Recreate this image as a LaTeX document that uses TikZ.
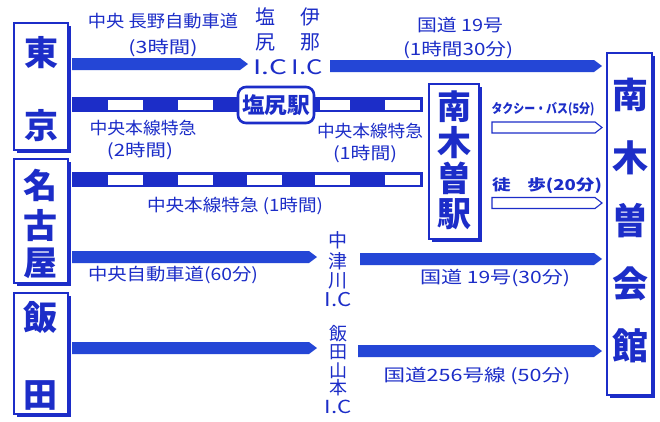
\documentclass[tikz,border=0pt]{standalone}
\usepackage{fontspec}
\usepackage{graphicx}
\setmainfont{Noto Sans CJK JP}
\usetikzlibrary{calc,shadows}
\definecolor{mblue}{RGB}{28,45,200}
\definecolor{rblue}{RGB}{36,70,214}
\newcommand\fitw[2]{\resizebox{#1pt}{\height}{#2}}
\begin{document}
\begin{tikzpicture}[x=1pt,y=-1pt,
  box/.style={draw=mblue,line width=1.8pt,fill=white,inner sep=0pt,
    drop shadow={shadow xshift=3pt,shadow yshift=-3pt,fill=mblue,opacity=1}},
  fs/.style n args={3}{font=\fontsize{#1}{#1}\selectfont,text height=#2pt,text depth=#3pt},
  txt/.style={text=mblue,inner sep=0pt},
  bigc/.style={txt,fs={34}{29.9}{4.1},font=\bfseries\fontsize{34}{34}\selectfont},
  bigr/.style={txt,fs={36}{31.7}{4.3},font=\bfseries\fontsize{36}{36}\selectfont},
  lbl/.style={txt,fs={17}{15}{2}},
  ic/.style={txt,fs={20}{17.6}{2.4}},
  roadto/.style={to path={let \p1=(\tikztostart),\p2=(\tikztotarget) in
     (\x1,\y1+6pt) -- (\x2-8pt,\y1+6pt) -- (\x2,\y1) -- (\x2-8pt,\y1-6pt) -- (\x1,\y1-6pt) -- cycle}},
  walkto/.style={to path={let \p1=(\tikztostart),\p2=(\tikztotarget) in
     (\x1,\y1+5.5pt) -- (\x2-7pt,\y1+5.5pt) -- (\x2,\y1) -- (\x2-7pt,\y1-5.5pt) -- (\x1,\y1-5.5pt) -- cycle}},
  road/.style={fill=rblue},
  walk/.style={draw=mblue,line width=1.1pt,fill=white},
]
\useasboundingbox (0,0) rectangle (660,421);
\fill[white] (0,0) rectangle (660,421);

% ---------- rails ----------
\coordinate (railAs) at (72,104.5);
\coordinate (railAe) at (423,104.5);
\fill[mblue] ($(railAs)+(0,-7.5)$) rectangle ($(railAe)+(0,7.5)$);
\foreach \a/\b in {108/143,178/213,320/350,385/420}
  \fill[white] (\a,100) rectangle (\b,109.5);
\coordinate (railBs) at (72,179.5);
\coordinate (railBe) at (423,179.5);
\fill[mblue] ($(railBs)+(0,-7.5)$) rectangle ($(railBe)+(0,7.5)$);
\foreach \a/\b in {108/143,178/213,247/282,315/350,385/420}
  \fill[white] (\a,175) rectangle (\b,184.5);

% ---------- boxes ----------
\node[box,minimum width=54pt,minimum height=127pt] (tokyo) at (41,86.5) {};
\node[box,minimum width=54pt,minimum height=124pt] (nagoya) at (41,221) {};
\node[box,minimum width=54pt,minimum height=121pt] (iida) at (41,353.5) {};
\node[box,minimum width=45pt,minimum height=342pt] (kaikan) at (629.5,224) {};
\node[box,minimum width=50pt,minimum height=155pt] (eki) at (454,161.5) {};
\node[draw=mblue,line width=2.6pt,fill=white,rounded corners=8pt,
      minimum width=76pt,minimum height=36pt,inner sep=0pt] (shioeki) at (276,105) {};
\node[txt,fs={22}{19.4}{2.6},font=\bfseries\fontsize{22}{22}\selectfont] (shioekit) at (276,105) {\fitw{68}{塩尻駅}};

% ---------- big characters ----------
\node[bigc] (c1) at (41,53) {東};
\node[bigc] (c2) at (41,126) {京};
\node[bigc] (c3) at (40,186) {名};
\node[bigc] (c4) at (40,226) {古};
\node[bigc] (c5) at (40,263) {屋};
\node[bigc] (c6) at (40,318) {飯};
\node[bigc] (c7) at (40,395) {田};
\node[bigr] (k1) at (630,95) {南};
\node[bigr] (k2) at (630,158) {木};
\node[bigr] (k3) at (630,221) {曽};
\node[bigr] (k4) at (630,284) {会};
\node[bigr] (k5) at (630,346) {館};
\node[bigc] (e1) at (454,107) {南};
\node[bigc] (e2) at (454,143) {木};
\node[bigc] (e3) at (454,179) {曽};
\node[bigc] (e4) at (454,214) {駅};

% ---------- road arrows ----------
\coordinate (r1s) at (72,64);  \coordinate (r1e) at (248,64);
\coordinate (r2s) at (330,66); \coordinate (r2e) at (602,66);
\coordinate (r3s) at (72,257); \coordinate (r3e) at (317,257);
\coordinate (r4s) at (360,259);\coordinate (r4e) at (602,259);
\coordinate (r5s) at (72,348); \coordinate (r5e) at (317,348);
\coordinate (r6s) at (358,351);\coordinate (r6e) at (602,351);
\fill[road] (r1s) to[roadto] (r1e);
\fill[road] (r2s) to[roadto] (r2e);
\fill[road] (r3s) to[roadto] (r3e);
\fill[road] (r4s) to[roadto] (r4e);
\fill[road] (r5s) to[roadto] (r5e);
\fill[road] (r6s) to[roadto] (r6e);

% ---------- outline arrows ----------
\coordinate (w1s) at (492,127.5); \coordinate (w1e) at (602,127.5);
\coordinate (w2s) at (492,203);   \coordinate (w2e) at (602,203);
\draw[walk] (w1s) to[walkto] (w1e);
\draw[walk] (w2s) to[walkto] (w2e);

% ---------- labels ----------
\node[lbl] (l1) at (163,21) {\fitw{150}{中央 長野自動車道}};
\node[lbl] (l2) at (163,47) {\fitw{69}{(3時間)}};
\node[ic] (i1) at (265,17) {塩};
\node[ic] (i2) at (265,42) {尻};
\node[ic] (i3) at (270,67) {\fitw{34}{I.C}};
\node[ic] (i4) at (310,17) {伊};
\node[ic] (i5) at (310,42) {那};
\node[ic] (i6) at (307,67) {\fitw{31}{I.C}};
\node[lbl] (l4) at (460,25) {\fitw{86}{国道 19号}};
\node[lbl] (l5) at (458,49) {\fitw{110}{(1時間30分)}};
\node[lbl] (l6) at (143,128) {\fitw{107}{中央本線特急}};
\node[lbl] (l7) at (140,150) {\fitw{66}{(2時間)}};
\node[lbl] (l8) at (370,131) {\fitw{106}{中央本線特急}};
\node[lbl] (l9) at (365,153) {\fitw{64}{(1時間)}};
\node[lbl] (l10) at (235,205) {\fitw{176}{中央本線特急 (1時間)}};
\node[lbl] (l11) at (173,274) {\fitw{170}{中央自動車道(60分)}};
\node[lbl] (l14) at (495,277) {\fitw{150}{国道 19号(30分)}};
\node[lbl] (l15) at (477,375) {\fitw{187}{国道256号線 (50分)}};
\node[txt,fs={19}{16.7}{2.3}] (n1) at (338,240) {中};
\node[txt,fs={19}{16.7}{2.3}] (n2) at (338,261) {津};
\node[txt,fs={19}{16.7}{2.3}] (n3) at (338,280) {川};
\node[txt,fs={19}{16.7}{2.3}] (n4) at (338,299) {\fitw{27}{I.C}};
\node[txt,fs={18}{15.8}{2.2}] (m1) at (338,334) {飯};
\node[txt,fs={18}{15.8}{2.2}] (m2) at (338,352) {田};
\node[txt,fs={18}{15.8}{2.2}] (m3) at (338,371) {山};
\node[txt,fs={18}{15.8}{2.2}] (m4) at (338,388) {本};
\node[txt,fs={18}{15.8}{2.2}] (m5) at (338,407) {\fitw{27}{I.C}};
\node[txt,fs={13}{11.4}{1.6},font=\bfseries\fontsize{13}{13}\selectfont] (t1) at (543,109) {\fitw{103}{タクシー・バス(5分)}};
\node[txt,fs={15}{13.2}{1.8},font=\bfseries\fontsize{15}{15}\selectfont] (t2) at (547,185) {\fitw{110}{徒\hspace{0.9em}歩(20分)}};
\end{tikzpicture}
\end{document}
